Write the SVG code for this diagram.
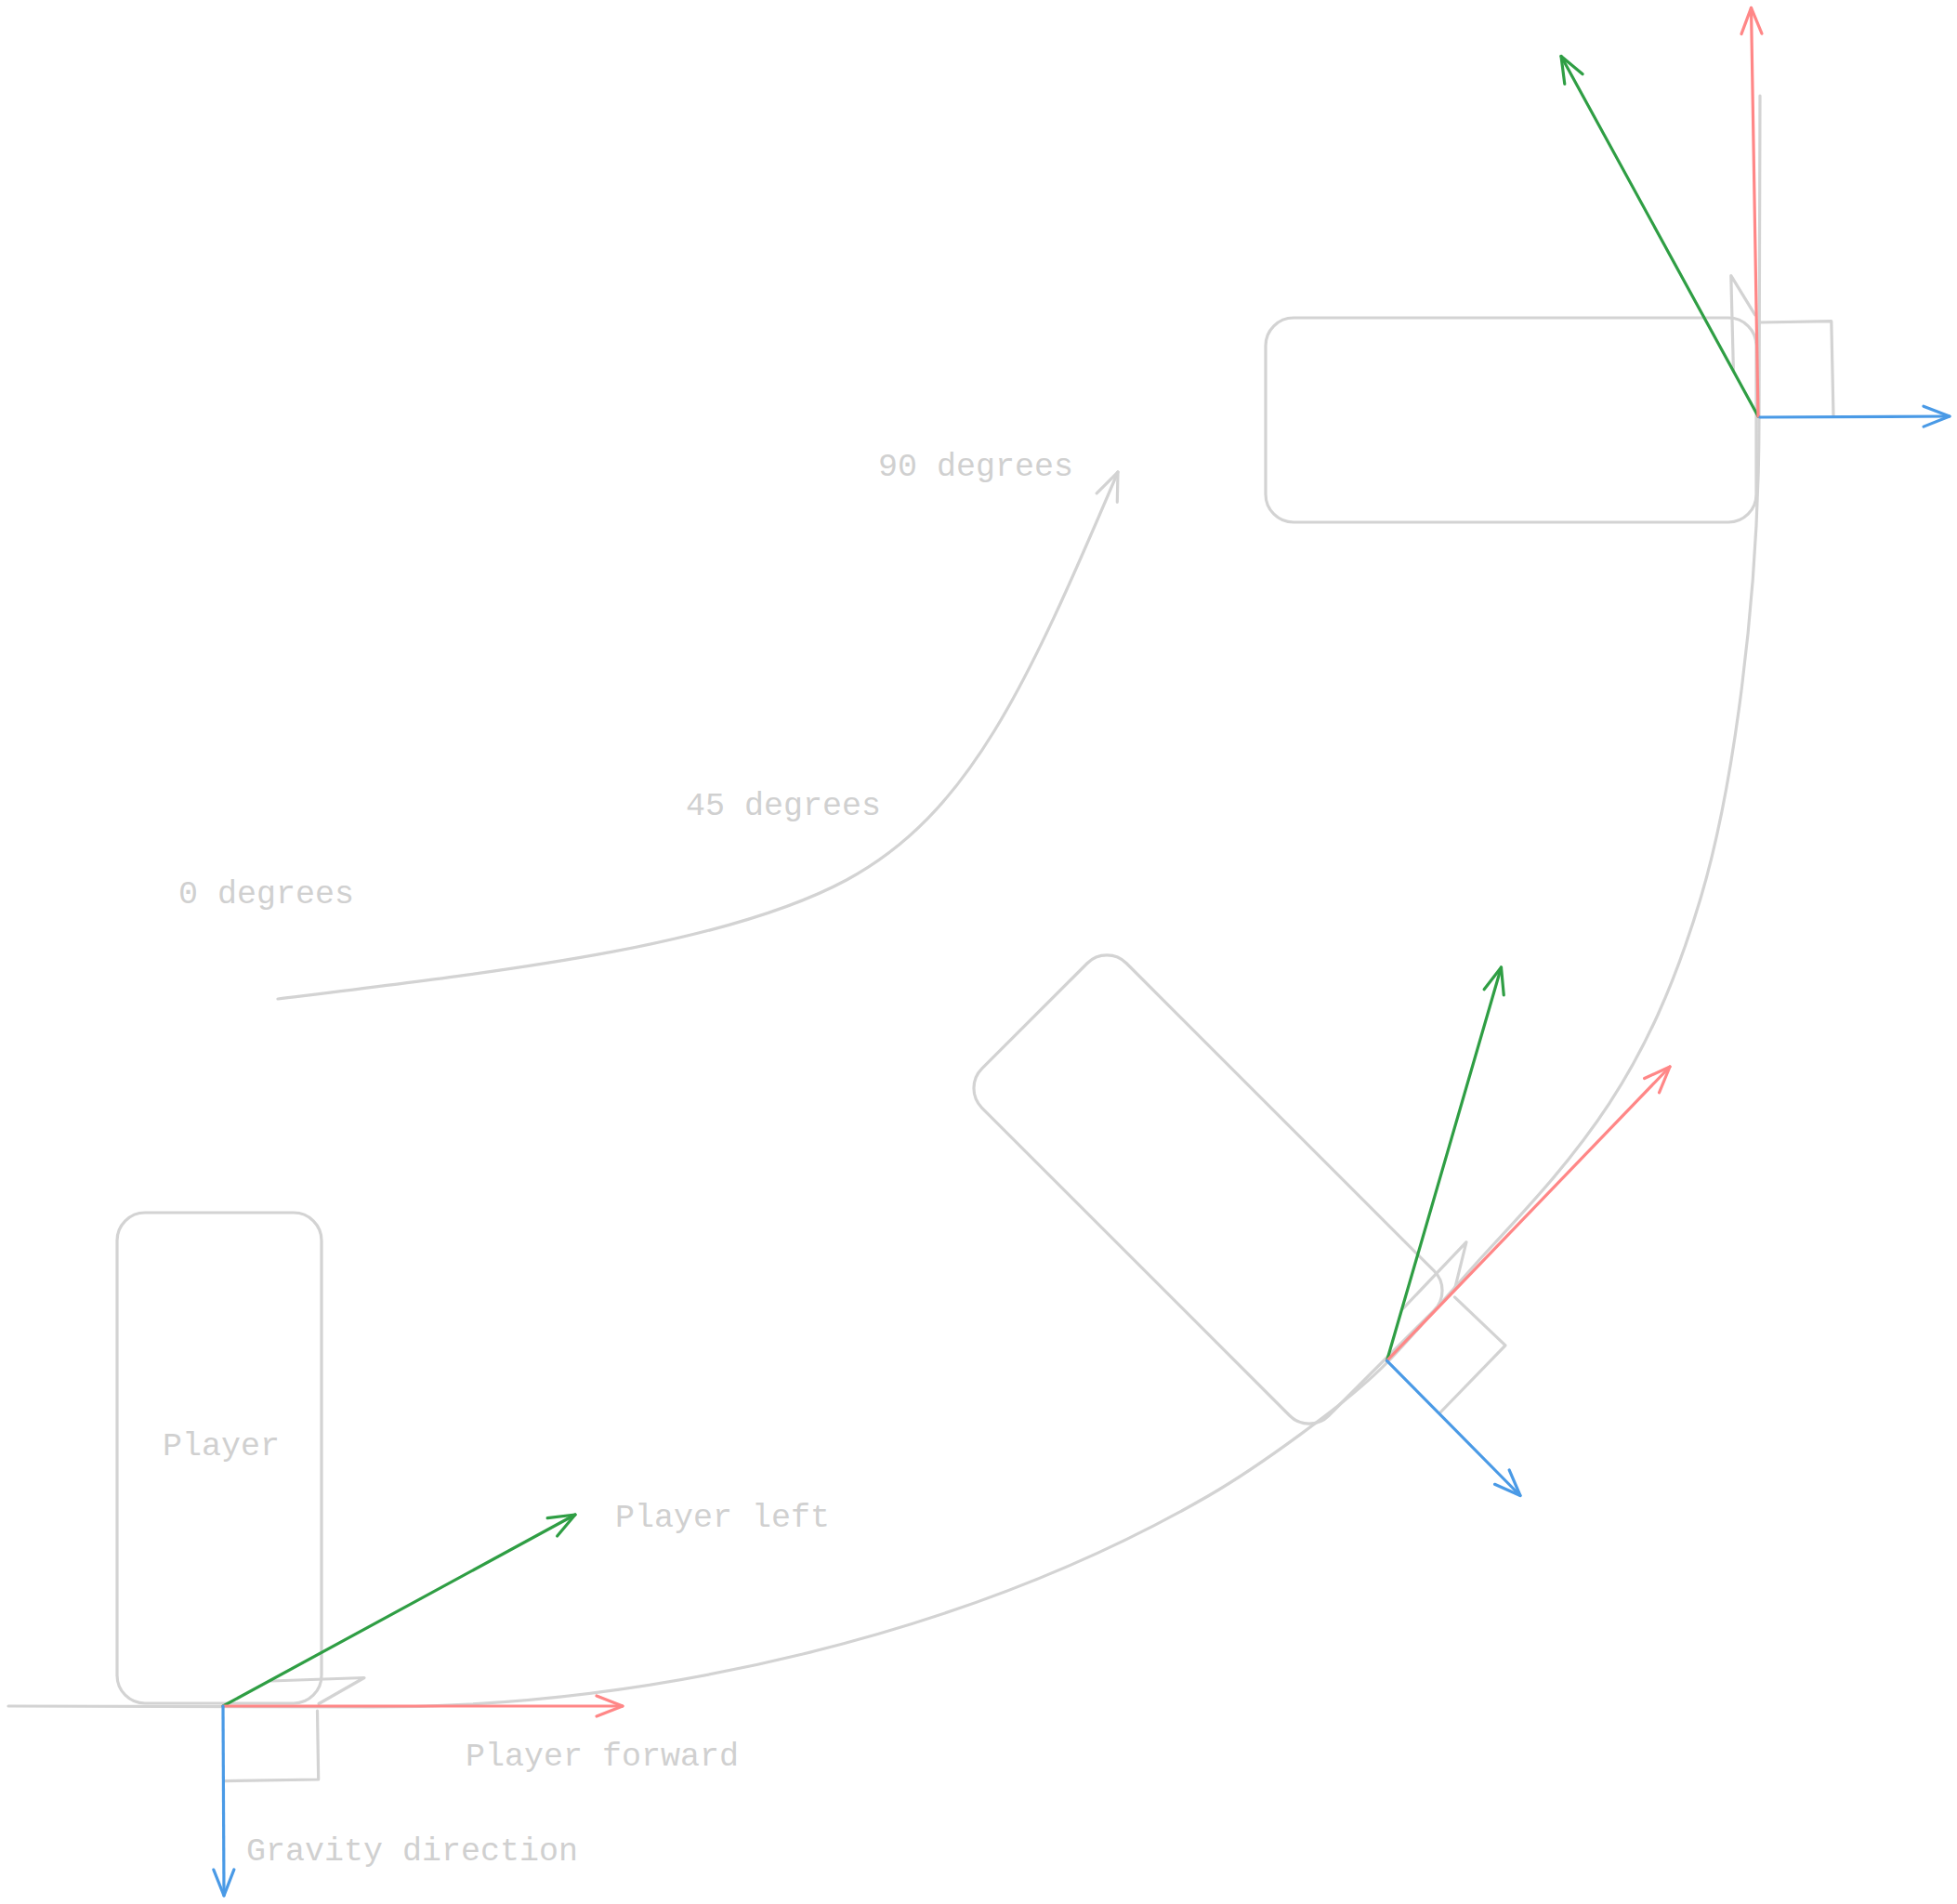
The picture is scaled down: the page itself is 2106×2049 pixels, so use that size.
<svg xmlns="http://www.w3.org/2000/svg" width="2106" height="2049" viewBox="0 0 2106 2049">
<style>
.box{fill:none;stroke:#d3d3d3;stroke-width:3.2}
.gray{fill:none;stroke:#d3d3d3;stroke-width:3.2;stroke-linecap:round;stroke-linejoin:round}
.g{fill:none;stroke:#2f9e44;stroke-width:3.2;stroke-linecap:round}
.r{fill:none;stroke:#ff8787;stroke-width:3.2;stroke-linecap:round}
.b{fill:none;stroke:#4a9ae6;stroke-width:3.2;stroke-linecap:round}
.lbl{font-family:"Liberation Mono","DejaVu Sans Mono",monospace;font-size:35px;fill:#d0d0d0}
</style>
<defs>
<marker id="ah-g" markerUnits="userSpaceOnUse" markerWidth="40" markerHeight="40" refX="0" refY="0" orient="auto" overflow="visible"><path d="M-28,-11 L0,0 L-28,11" fill="none" stroke="#2f9e44" stroke-width="3.2" stroke-linecap="round" stroke-linejoin="round"/></marker>
<marker id="ah-r" markerUnits="userSpaceOnUse" markerWidth="40" markerHeight="40" refX="0" refY="0" orient="auto" overflow="visible"><path d="M-28,-11 L0,0 L-28,11" fill="none" stroke="#ff8787" stroke-width="3.2" stroke-linecap="round" stroke-linejoin="round"/></marker>
<marker id="ah-b" markerUnits="userSpaceOnUse" markerWidth="40" markerHeight="40" refX="0" refY="0" orient="auto" overflow="visible"><path d="M-28,-11 L0,0 L-28,11" fill="none" stroke="#4a9ae6" stroke-width="3.2" stroke-linecap="round" stroke-linejoin="round"/></marker>
<marker id="ah-gray" markerUnits="userSpaceOnUse" markerWidth="40" markerHeight="40" refX="0" refY="0" orient="auto" overflow="visible"><path d="M-30,-12 L0,0 L-30,12" fill="none" stroke="#d3d3d3" stroke-width="3.2" stroke-linecap="round" stroke-linejoin="round"/></marker>
</defs>
<rect width="2106" height="2049" fill="#ffffff"/>

<g id="node-player">
<rect class="box" x="126" y="1305" width="220" height="528" rx="30" ry="30"/>
<text class="lbl" x="238" y="1566" text-anchor="middle">Player</text>
</g>
<g id="node-player-45">
<rect class="box" x="-264" y="-110" width="528" height="220" rx="30" ry="30" transform="translate(1300,1280) rotate(45)"/>
</g>
<g id="node-player-90">
<rect class="box" x="1362" y="342" width="528" height="220" rx="30" ry="30"/>
</g>

<g id="labels">
<text class="lbl" x="662" y="1643">Player left</text>
<text class="lbl" x="501" y="1900">Player forward</text>
<text class="lbl" x="265" y="2002">Gravity direction</text>
<text class="lbl" x="192" y="972">0 degrees</text>
<text class="lbl" x="738" y="877">45 degrees</text>
<text class="lbl" x="945" y="512">90 degrees</text>
</g>

<g id="connectors">
<!-- ground / path curve -->
<path class="gray" d="M9,1836 L400,1837 C700,1837 1040,1760 1300,1610 C1352,1580 1450,1510 1492,1467 C1520,1438.6 1573,1376 1600,1347 C1702,1237.5 1772.6,1158.4 1830,967 C1864.4,852 1893,649 1893,449 L1894,103"/>
<!-- rotation arrow -->
<path class="gray" marker-end="url(#ah-gray)" d="M299,1075 C547,1044.5 779,1018 911,947 C1043,875.75 1105,738 1203,508"/>

<!-- angle markers: player -->
<polyline class="gray" points="241,1916.6 342.7,1915 341.5,1841"/>
<polyline class="gray" points="291.6,1809 392,1805.5 343,1833.5"/>
<!-- angle markers: 45 -->
<polyline class="gray" points="1565.4,1395.9 1620,1447.8 1550,1520"/>
<polyline class="gray" points="1509.7,1408.4 1578,1336.6 1565.4,1387.6"/>
<!-- angle markers: 90 -->
<polyline class="gray" points="1893.7,347 1970.8,345.6 1973,447"/>
<polyline class="gray" points="1865.4,398 1862.8,296.6 1888.5,338.7"/>

<!-- player vectors -->
<line class="g" x1="240" y1="1836" x2="619" y2="1630" marker-end="url(#ah-g)"/>
<line class="r" x1="240" y1="1836" x2="670" y2="1836" marker-end="url(#ah-r)"/>
<line class="b" x1="240" y1="1836" x2="241" y2="2040" marker-end="url(#ah-b)"/>
<!-- 45 vectors -->
<line class="g" x1="1492.5" y1="1464.3" x2="1615.5" y2="1041" marker-end="url(#ah-g)"/>
<line class="r" x1="1492.5" y1="1464.3" x2="1797" y2="1148" marker-end="url(#ah-r)"/>
<line class="b" x1="1492.5" y1="1464.3" x2="1636" y2="1609.5" marker-end="url(#ah-b)"/>
<!-- 90 vectors -->
<line class="g" x1="1892" y1="448" x2="1680" y2="60.5" marker-end="url(#ah-g)"/>
<line class="r" x1="1892" y1="448" x2="1884.5" y2="8.4" marker-end="url(#ah-r)"/>
<line class="b" x1="1894" y1="449" x2="2098" y2="448" marker-end="url(#ah-b)"/>
</g>
</svg>
